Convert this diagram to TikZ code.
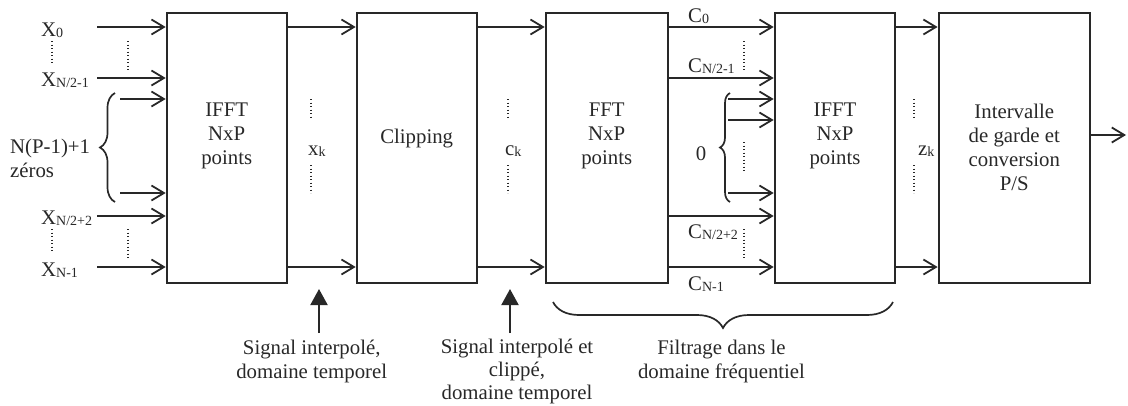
\documentclass[tikz,border=0pt]{standalone}
\usepackage{fontspec}
\setmainfont{Liberation Serif}
\usetikzlibrary{arrows.meta,decorations.pathreplacing,calc}
\definecolor{ink}{RGB}{40,40,40}
\newcommand\sbs[1]{\raisebox{-1.5pt}{\fontsize{14}{14}\selectfont #1}}
\newcommand\mlines[1]{\begin{tabular}[t]{@{}c@{}}#1\end{tabular}}
\newcommand\llines[1]{\begin{tabular}[t]{@{}l@{}}#1\end{tabular}}
\begin{document}
\begin{tikzpicture}[x=1pt,y=-1pt,
  every node/.style={font=\fontsize{20.8}{24}\selectfont, text=ink, inner sep=0pt},
  blk/.style={draw=ink, line width=2pt, minimum height=270pt, inner sep=0pt},
  arr/.style={draw=ink, line width=2pt, -{Straight Barb[length=12.5pt,width=15pt,line width=1.8pt]}},
  dots/.style={draw=ink, line width=1.2pt, dash pattern=on 1.2pt off 2.3pt},
  brc/.style={draw=ink, line width=1.7pt, decorate, decoration={brace, amplitude=#1}},
  uparr/.style={draw=ink, line width=2pt, -{Triangle[length=16pt,width=17pt]}},
]
\useasboundingbox (0,0) rectangle (1128,405);

% blocks
\node[blk, minimum width=120pt] (b1) at (226.7,147.7) {};
\node[blk, minimum width=120pt] (b2) at (416.7,147.7) {};
\node[blk, minimum width=122pt] (b3) at (606.7,147.7) {};
\node[blk, minimum width=120.6pt] (b4) at (835,147.7) {};
\node[blk, minimum width=151.3pt] (b5) at (1014.3,147.7) {};

% block texts
\node[anchor=base] (t1) at (226.7,116.7) {\mlines{IFFT\\NxP\\points}};
\node[anchor=base] (t2) at (416.7,143) {Clipping};
\node[anchor=base] (t3) at (606.7,116.7) {\mlines{FFT\\NxP\\points}};
\node[anchor=base] (t4) at (835,116.7) {\mlines{IFFT\\NxP\\points}};
\node[anchor=base] (t5) at (1014.3,118) {\mlines{Intervalle\\de garde et\\conversion\\P/S}};

% row coordinates (arrow starts)
\coordinate (r1) at (97,27);
\coordinate (r2) at (97,78);
\coordinate (r3) at (120,99);
\coordinate (r4) at (120,193);
\coordinate (r5) at (97,216);
\coordinate (r6) at (97,267);
\coordinate (z1) at (728,99);
\coordinate (z2) at (728,120);
\coordinate (z3) at (728,193);
\coordinate (out) at (1126,135);

% input labels
\node[anchor=base west] (lx0) at (41,36) {X\sbs{0}};
\node[anchor=base west] (lx1) at (41,86) {X\sbs{N/2-1}};
\node[anchor=base west] (lx2) at (41,224) {X\sbs{N/2+2}};
\node[anchor=base west] (lx3) at (41,276) {X\sbs{N-1}};
\node[anchor=base west] (lzer) at (10,153) {\llines{N(P-1)+1\\zéros}};

% input arrows
\foreach \r in {r1,r2,r3,r4,r5,r6} {\draw[arr] (\r) -- (\r -| b1.west);}

% left braces and dots
\draw[brc=15pt] (115,202) -- (115,93);
\draw[dots] (52,41) -- (52,63);
\draw[dots] (52,229) -- (52,251);
\draw[dots] (128,41) -- (128,71);
\draw[dots] (128,229) -- (128,259);

% b1 -> b2
\draw[arr] (b1.east |- r1) -- (b2.west |- r1);
\draw[arr] (b1.east |- r6) -- (b2.west |- r6);
\node[anchor=base west] (xk) at (308,155) {x\sbs{k}};
\draw[dots] (311,99) -- (311,119);
\draw[dots] (311,165) -- (311,193);

% b2 -> b3
\draw[arr] (b2.east |- r1) -- (b3.west |- r1);
\draw[arr] (b2.east |- r6) -- (b3.west |- r6);
\node[anchor=base west] (ck) at (505,155) {c\sbs{k}};
\draw[dots] (508,99) -- (508,119);
\draw[dots] (508,165) -- (508,193);

% b3 -> b4
\foreach \r in {r1,r2,r5,r6} {\draw[arr] (b3.east |- \r) -- (b4.west |- \r);}
\foreach \r in {z1,z2,z3} {\draw[arr] (\r) -- (\r -| b4.west);}
\node[anchor=base west] (c0) at (688,22) {C\sbs{0}};
\node[anchor=base west] (c1) at (688,72) {C\sbs{N/2-1}};
\node[anchor=base west] (c2) at (688,238) {C\sbs{N/2+2}};
\node[anchor=base west] (c3) at (688,290) {C\sbs{N-1}};
\node[anchor=base] (zero) at (701,160.5) {0};
\draw[brc=10pt] (730,202) -- (730,93);
\draw[dots] (744,41) -- (744,71);
\draw[dots] (744,142) -- (744,173);
\draw[dots] (744,229) -- (744,259);

% b4 -> b5
\draw[arr] (b4.east |- r1) -- (b5.west |- r1);
\draw[arr] (b4.east |- r6) -- (b5.west |- r6);
\node[anchor=base west] (zk) at (918,155) {z\sbs{k}};
\draw[dots] (914,99) -- (914,119);
\draw[dots] (914,165) -- (914,193);

% output
\draw[arr] (b5.east |- out) -- (out);

% bottom annotations
\coordinate (u1a) at (319,333);
\coordinate (u1b) at (319,289);
\coordinate (u2a) at (510,333);
\coordinate (u2b) at (510,289);
\draw[uparr] (u1a) -- (u1b);
\draw[uparr] (u2a) -- (u2b);
\node[anchor=base] (lab1) at (311.7,354) {\mlines{Signal interpolé,\\domaine temporel}};
\node[anchor=base, font=\fontsize{20.8}{23}\selectfont] (lab2) at (517,353) {\mlines{Signal interpolé et\\clippé,\\domaine temporel}};
\draw[brc=26pt] (893,302) -- (553,302);
\node[anchor=base] (lab3) at (721.5,354) {\mlines{Filtrage dans le\\domaine fréquentiel}};
\end{tikzpicture}
\end{document}
